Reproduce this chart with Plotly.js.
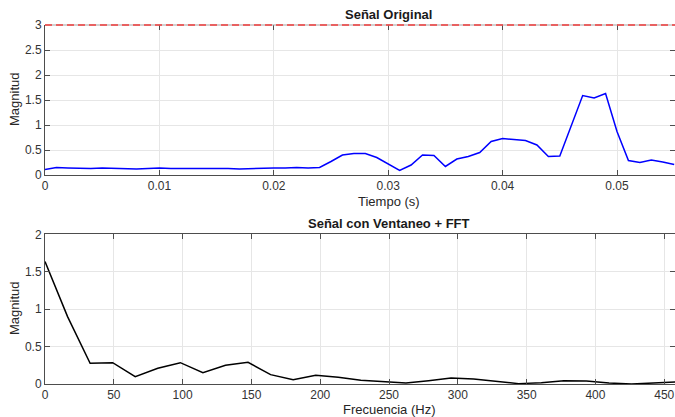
<!DOCTYPE html>
<html>
<head>
<meta charset="utf-8">
<script src="https://cdn.plot.ly/plotly-3.0.1.min.js"></script>
<style>html,body{margin:0;padding:0;overflow:hidden;background:#fff;}#chart{width:675px;height:417px;}</style>
</head>
<body>
<div id="chart"></div>
<script>
// Señal original (tiempo en s, magnitud)
const tiempo = [0,0.001,0.002,0.003,0.004,0.005,0.006,0.007,0.008,0.009,0.010,0.011,0.012,0.013,0.014,0.015,0.016,0.017,0.018,0.019,0.020,0.021,0.022,0.023,0.024,0.025,0.026,0.027,0.028,0.029,0.030,0.031,0.032,0.033,0.034,0.035,0.036,0.037,0.038,0.039,0.040,0.041,0.042,0.043,0.044,0.045,0.046,0.047,0.048,0.049,0.050,0.051,0.052,0.053,0.054,0.055];
const senal = [0.11,0.15,0.14,0.13,0.13,0.14,0.13,0.13,0.12,0.13,0.14,0.13,0.13,0.13,0.14,0.13,0.13,0.12,0.13,0.14,0.14,0.14,0.15,0.14,0.15,0.27,0.40,0.43,0.43,0.35,0.22,0.09,0.20,0.40,0.39,0.17,0.32,0.37,0.45,0.67,0.73,0.71,0.69,0.60,0.37,0.38,1.00,1.59,1.54,1.63,0.87,0.29,0.25,0.30,0.26,0.21];
const umbral = 3;

// Espectro con ventaneo + FFT
const frecuencia = [0,16.39,32.79,49.18,65.57,81.97,98.36,114.75,131.15,147.54,163.93,180.33,196.72,213.11,229.51,245.90,262.30,278.69,295.08,311.48,327.87,344.26,360.66,377.05,393.44,409.84,426.23,442.62,459.02];
const espectro = [1.635,0.90,0.276,0.285,0.098,0.21,0.285,0.15,0.25,0.29,0.125,0.058,0.116,0.09,0.05,0.035,0.015,0.045,0.08,0.067,0.035,0.005,0.018,0.045,0.04,0.013,0.0,0.01,0.027];

const titulo1 = 'Señal Original';
const titulo2 = 'Señal con Ventaneo + FFT';
const ejeX1 = 'Tiempo (s)';
const ejeX2 = 'Frecuencia (Hz)';
const ejeY = 'Magnitud';
const ticksX1 = [0,0.01,0.02,0.03,0.04,0.05];
const ticksY1 = [0,0.5,1,1.5,2,2.5,3];
const ticksX2 = [0,50,100,150,200,250,300,350,400,450];
const ticksY2 = [0,0.5,1,1.5,2];

const H = 417;
const fy = px => 1 - px / H;
const FONT = 'Liberation Sans, Arial, Helvetica, sans-serif';

const yDom1 = [fy(175), fy(25)];
const yRange1 = [0, 3];
const yDom2 = [fy(384), fy(234.3)];
const yRange2 = [0, 2];
// paper position of the threshold value, through the top y axis scale
const umbralPaper = yDom1[0] + (umbral - yRange1[0]) / (yRange1[1] - yRange1[0]) * (yDom1[1] - yDom1[0]);

const axisCommon = {
  showgrid: true, gridcolor: '#e6e6e6', gridwidth: 1,
  showline: true, linecolor: '#4d4d4d', linewidth: 1,
  ticks: 'inside', ticklen: 5, tickcolor: '#4d4d4d', tickwidth: 1,
  mirror: 'ticks', zeroline: false,
  tickfont: {family: FONT, size: 12, color: '#333333'}
};

const traces = [
  {x: tiempo, y: senal, type: 'scatter', mode: 'lines', line: {color: '#0000ff', width: 1.5}, xaxis: 'x', yaxis: 'y', hoverinfo: 'skip'},
  {x: frecuencia, y: espectro, type: 'scatter', mode: 'lines', line: {color: '#000000', width: 1.5}, xaxis: 'x2', yaxis: 'y2', hoverinfo: 'skip'},
  {x: [], y: [], type: 'scatter', mode: 'lines', xaxis: 'x3', yaxis: 'y', hoverinfo: 'skip'}
];

const layout = {
  width: 675, height: 417,
  margin: {l: 45, r: 0, t: 0, b: 0},
  paper_bgcolor: '#ffffff', plot_bgcolor: '#ffffff',
  showlegend: false,
  font: {family: FONT, color: '#262626'},
  xaxis: Object.assign({}, axisCommon, {domain: [0, 1], range: [0, 0.05507], tickvals: ticksX1, ticktext: ticksX1.map(String), anchor: 'y', mirror: false}),
  xaxis3: {overlaying: 'x', side: 'top', anchor: 'y', matches: 'x', range: [0, 0.05507], tickvals: ticksX1, showticklabels: false, showgrid: false, showline: false, zeroline: false, ticks: 'inside', ticklen: 5, tickcolor: '#4d4d4d', tickwidth: 1},
  yaxis: Object.assign({}, axisCommon, {domain: yDom1, range: yRange1, tickvals: ticksY1, ticktext: ticksY1.map(String), anchor: 'x'}),
  xaxis2: Object.assign({}, axisCommon, {domain: [0, 1], range: [0, 457.8], tickvals: ticksX2, ticktext: ticksX2.map(String), anchor: 'y2'}),
  yaxis2: Object.assign({}, axisCommon, {domain: yDom2, range: yRange2, tickvals: ticksY2, ticktext: ticksY2.map(String), anchor: 'x2'}),
  shapes: [
    {type: 'line', xref: 'paper', yref: 'paper', x0: 0, x1: 1, y0: umbralPaper, y1: umbralPaper, layer: 'above', line: {color: '#a6a6a6', width: 1.2}},
    {type: 'line', xref: 'paper', yref: 'paper', x0: 0, x1: 1, y0: umbralPaper, y1: umbralPaper, layer: 'above', line: {color: '#f03c3c', width: 1.5, dash: '7px,4px'}}
  ],
  annotations: [
    {text: '<b>' + titulo1 + '</b>', xref: 'paper', yref: 'paper', x: (389 - 45) / 630, y: fy(14), showarrow: false, xanchor: 'center', yanchor: 'middle', font: {family: FONT, size: 13, color: '#1a1a1a'}},
    {text: '<b>' + titulo2 + '</b>', xref: 'paper', yref: 'paper', x: (389 - 45) / 630, y: fy(223), showarrow: false, xanchor: 'center', yanchor: 'middle', font: {family: FONT, size: 13, color: '#1a1a1a'}},
    {text: ejeX1, xref: 'paper', yref: 'paper', x: (389 - 45) / 630, y: fy(201), showarrow: false, xanchor: 'center', yanchor: 'middle', font: {family: FONT, size: 13, color: '#262626'}},
    {text: ejeX2, xref: 'paper', yref: 'paper', x: (389 - 45) / 630, y: fy(409), showarrow: false, xanchor: 'center', yanchor: 'middle', font: {family: FONT, size: 13, color: '#262626'}},
    {text: ejeY, xref: 'paper', yref: 'paper', x: (14 - 45) / 630, y: fy(100), showarrow: false, textangle: -90, xanchor: 'center', yanchor: 'middle', font: {family: FONT, size: 13, color: '#262626'}},
    {text: ejeY, xref: 'paper', yref: 'paper', x: (14 - 45) / 630, y: fy(309), showarrow: false, textangle: -90, xanchor: 'center', yanchor: 'middle', font: {family: FONT, size: 13, color: '#262626'}}
  ]
};

Plotly.newPlot('chart', traces, layout, {staticPlot: true, displayModeBar: false});
</script>
</body>
</html>
